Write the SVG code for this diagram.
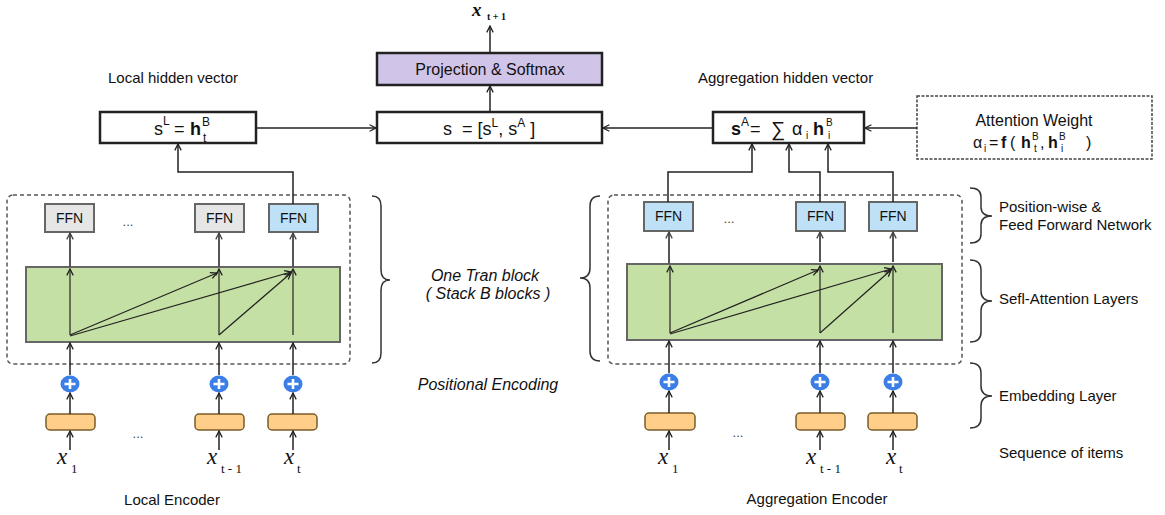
<svg xmlns="http://www.w3.org/2000/svg" width="1165" height="515" viewBox="0 0 1165 515">
<style>
text{font-family:"Liberation Sans",Arial,sans-serif;fill:#111}
.lbl{font-size:15px}
.it{font-style:italic;font-size:16px}
.bx{fill:#fff;stroke:#222;stroke-width:2.5}
.proj{fill:#d1c4e9;stroke:#222;stroke-width:2.5}
.attn{fill:#fff;stroke:#444;stroke-width:1.5;stroke-dasharray:3 1.5}
.cont{fill:none;stroke:#555;stroke-width:1.5;stroke-dasharray:4 3}
.ffng{fill:#e6e6e6;stroke:#666;stroke-width:2}
.ffnb{fill:#bfe1f8;stroke:#666;stroke-width:2}
.green{fill:#c5e0a4;stroke:#666;stroke-width:2}
.emb{fill:#ffcf8a;stroke:#7a5c28;stroke-width:1.5}
.plus{fill:#3b7fe6}
.pl{stroke:#fff;stroke-width:2.6}
.c{fill:none;stroke:#222;stroke-width:1.5;marker-end:url(#ah)}
.cg{fill:none;stroke:#555;stroke-width:2;marker-end:url(#ag)}
.ci{fill:none;stroke:#222;stroke-width:1.2;marker-end:url(#ah)}
.br{fill:none;stroke:#333;stroke-width:1.5}
.ffnt{font-size:14px;text-anchor:middle}
.f{font-size:18px}
.fa{font-size:16px}
.sup{font-size:12px}
.sa{font-size:10px}
.xl{font-family:"Liberation Serif","Times New Roman",serif;font-style:italic;font-size:23px}
.xs{font-family:"Liberation Serif","Times New Roman",serif;font-size:13px}
.dots{font-size:13px;fill:#444;text-anchor:middle}
</style>
<defs>
<marker id="ah" viewBox="0 0 10 10" refX="9" refY="5" markerWidth="8" markerHeight="8" orient="auto" markerUnits="userSpaceOnUse"><path d="M1,1 L9,5 L1,9" fill="none" stroke="#222" stroke-width="1.6"/></marker>
<marker id="ag" viewBox="0 0 10 10" refX="9" refY="5" markerWidth="8" markerHeight="8" orient="auto" markerUnits="userSpaceOnUse"><path d="M1,1 L9,5 L1,9" fill="none" stroke="#444" stroke-width="1.6"/></marker>
</defs>

<g id="labels">
<text class="lbl" x="173" y="83" text-anchor="middle">Local hidden vector</text>
<text class="lbl" x="698" y="83">Aggregation hidden vector</text>
<text class="it" x="485" y="281" text-anchor="middle">One Tran block</text>
<text class="it" x="488" y="299" text-anchor="middle">( Stack B blocks )</text>
<text class="it" x="488" y="390" text-anchor="middle">Positional Encoding</text>
<text class="lbl" x="172" y="505" text-anchor="middle">Local Encoder</text>
<text class="lbl" x="817" y="504" text-anchor="middle">Aggregation Encoder</text>
<text class="lbl" x="999" y="212">Position-wise &amp;</text>
<text class="lbl" x="999" y="230">Feed Forward Network</text>
<text class="lbl" x="999" y="304">Sefl-Attention Layers</text>
<text class="lbl" x="999" y="401">Embedding Layer</text>
<text class="lbl" x="999" y="458">Sequence of items</text>
</g>

<g id="braces">
<path class="br" d="M372,196 Q381,196 381,206 L381,270 Q381,280 390,280 Q381,280 381,290 L381,353 Q381,363 372,363"/>
<path class="br" d="M600,196 Q590,196 590,206 L590,268 Q590,278 580,278 Q590,278 590,288 L590,351 Q590,361 600,361"/>
<path class="br" d="M970,188 Q981,188 981,197 L981,207 Q981,216 992,216 Q981,216 981,225 L981,234 Q981,243 970,243"/>
<path class="br" d="M970,260 Q981,260 981,270 L981,291 Q981,301 992,301 Q981,301 981,311 L981,332 Q981,342 970,342"/>
<path class="br" d="M970,363 Q981,363 981,373 L981,386 Q981,396 992,396 Q981,396 981,406 L981,418 Q981,428 970,428"/>
</g>

<g id="output">
<text x="472" y="16" style="font-family:'Liberation Serif',serif;font-style:italic;font-weight:bold;font-size:19px">x</text>
<text x="487" y="20" style="font-family:'Liberation Serif',serif;font-weight:bold;font-size:10px">t + 1</text>
</g>

<g id="proj">
<rect class="proj" x="377" y="53" width="225" height="32"/>
<text x="490" y="75" text-anchor="middle" style="font-size:16px">Projection &amp; Softmax</text>
</g>

<g id="s">
<rect class="bx" x="377" y="112" width="225" height="31"/>
<text class="f" x="443" y="135">s&#160;&#160;= [s<tspan dy="-8" style="font-size:12px">L</tspan><tspan dy="8">, s</tspan><tspan dy="-8" style="font-size:12px">A</tspan><tspan dy="8"> ]</tspan></text>
</g>

<g id="sL">
<rect class="bx" x="100" y="112" width="156" height="31"/>
<text class="f" x="154" y="135">s</text>
<text class="sup" x="163" y="125">L</text>
<text class="f" x="174" y="135">=</text>
<text class="f" x="190" y="135" font-weight="bold">h</text>
<text class="sup" x="202" y="126">B</text>
<text class="sup" x="203" y="142">t</text>
</g>

<g id="sA">
<rect class="bx" x="713" y="112" width="151" height="31"/>
<text class="f" x="731" y="135" font-weight="bold">s</text>
<text class="sup" x="741" y="126">A</text>
<text class="f" x="750" y="135">=</text>
<text class="f" x="771" y="136" style="font-size:20px">∑</text>
<text class="f" x="792" y="135">α</text>
<text class="sa" x="806" y="139">i</text>
<text class="f" x="813" y="135" font-weight="bold">h</text>
<text class="sa" x="826" y="126">B</text>
<text class="sa" x="828" y="139">i</text>
</g>

<g id="attention">
<rect class="attn" x="917" y="96" width="235" height="63"/>
<text x="1034" y="126" text-anchor="middle" style="font-size:16px">Attention Weight</text>
<text class="fa" x="973" y="148">α</text>
<text class="sa" x="984" y="152">i</text>
<text class="fa" x="989" y="148">=</text>
<text class="fa" x="1001" y="148" font-weight="bold">f</text>
<text class="fa" x="1010" y="148">(</text>
<text class="fa" x="1021" y="148" font-weight="bold">h</text>
<text class="sa" x="1032" y="140">B</text>
<text class="sa" x="1034" y="152">t</text>
<text class="fa" x="1040" y="148">,</text>
<text class="fa" x="1048" y="148" font-weight="bold">h</text>
<text class="sa" x="1059" y="140">B</text>
<text class="sa" x="1061" y="152">i</text>
<text class="fa" x="1086" y="148">)</text>
</g>

<g id="local-encoder">
<rect class="cont" x="7" y="195" width="343" height="169" rx="6"/>
<rect class="green" x="26" y="267" width="314" height="75"/>
<rect class="ffng" x="45" y="204" width="49" height="28"/>
<text class="ffnt" x="69.5" y="223">FFN</text>
<rect class="ffng" x="195" y="204" width="49" height="28"/>
<text class="ffnt" x="219.5" y="223">FFN</text>
<rect class="ffnb" x="269" y="204" width="49" height="28"/>
<text class="ffnt" x="293.5" y="223">FFN</text>
<text class="dots" x="128" y="226">...</text>
<text class="dots" x="138" y="438">...</text>
<ellipse class="plus" cx="70" cy="384" rx="9.5" ry="8.5"/><path class="pl" d="M64.5,384 H75.5 M70,379 V389"/>
<ellipse class="plus" cx="219" cy="384" rx="9.5" ry="8.5"/><path class="pl" d="M213.5,384 H224.5 M219,379 V389"/>
<ellipse class="plus" cx="293" cy="384" rx="9.5" ry="8.5"/><path class="pl" d="M287.5,384 H298.5 M293,379 V389"/>
<rect class="emb" x="46" y="414" width="49" height="16" rx="4"/>
<rect class="emb" x="195" y="414" width="49" height="16" rx="4"/>
<rect class="emb" x="268" y="414" width="49" height="16" rx="4"/>
<text class="xl" x="57" y="464">x</text><text class="xs" x="71" y="473">1</text>
<text class="xl" x="207" y="464">x</text><text class="xs" x="221" y="473">t - 1</text>
<text class="xl" x="284" y="464">x</text><text class="xs" x="297" y="473">t</text>
</g>

<g id="aggregation-encoder">
<rect class="cont" x="608" y="195" width="354" height="169" rx="6"/>
<rect class="green" x="627" y="264" width="315" height="76"/>
<rect class="ffnb" x="644" y="202" width="49" height="29"/>
<text class="ffnt" x="668.5" y="221">FFN</text>
<rect class="ffnb" x="796" y="202" width="49" height="29"/>
<text class="ffnt" x="820.5" y="221">FFN</text>
<rect class="ffnb" x="869" y="202" width="48" height="29"/>
<text class="ffnt" x="893" y="221">FFN</text>
<text class="dots" x="729" y="223">...</text>
<text class="dots" x="738" y="437">...</text>
<ellipse class="plus" cx="669" cy="382" rx="9.5" ry="8.5"/><path class="pl" d="M663.5,382 H674.5 M669,377 V387"/>
<ellipse class="plus" cx="820" cy="382" rx="9.5" ry="8.5"/><path class="pl" d="M814.5,382 H825.5 M820,377 V387"/>
<ellipse class="plus" cx="893" cy="382" rx="9.5" ry="8.5"/><path class="pl" d="M887.5,382 H898.5 M893,377 V387"/>
<rect class="emb" x="645" y="413" width="50" height="17" rx="4"/>
<rect class="emb" x="796" y="413" width="49" height="17" rx="4"/>
<rect class="emb" x="868" y="413" width="49" height="17" rx="4"/>
<text class="xl" x="658" y="464">x</text><text class="xs" x="672" y="473">1</text>
<text class="xl" x="806" y="464">x</text><text class="xs" x="820" y="473">t - 1</text>
<text class="xl" x="886" y="464">x</text><text class="xs" x="899" y="473">t</text>
</g>

<g id="connectors">
<path class="c" d="M490,52 V26"/>
<path class="c" d="M490,112 V86"/>
<path class="c" d="M256,128 H376"/>
<path class="c" d="M713,128 H603"/>
<path class="c" d="M917,128 H865"/>
<path class="c" d="M293,204 V172 H178 V144"/>
<path class="c" d="M668,202 V172 H752 V144"/>
<path class="c" d="M820,202 V172 H789 V144"/>
<path class="c" d="M893,202 V172 H828 V144"/>
<path class="cg" d="M70,267 V233"/>
<path class="cg" d="M219,267 V233"/>
<path class="cg" d="M293,267 V233"/>
<path class="ci" d="M70,335 V269"/>
<path class="ci" d="M70,335 L217,273"/>
<path class="ci" d="M70,336 L291,272"/>
<path class="ci" d="M219,335 V269"/>
<path class="ci" d="M219,335 L291,273"/>
<path class="ci" d="M293,335 V269"/>
<path class="c" d="M70,375 V343"/>
<path class="c" d="M219,375 V343"/>
<path class="c" d="M293,375 V343"/>
<path class="c" d="M70,414 V393"/>
<path class="c" d="M219,414 V393"/>
<path class="c" d="M293,414 V393"/>
<path class="c" d="M70,450 V431"/>
<path class="c" d="M219,450 V431"/>
<path class="c" d="M293,450 V431"/>
<path class="cg" d="M669,264 V232"/>
<path class="cg" d="M820,262 V232"/>
<path class="cg" d="M893,262 V232"/>
<path class="ci" d="M670,333 V266"/>
<path class="ci" d="M670,333 L818,270"/>
<path class="ci" d="M670,334 L891,269"/>
<path class="ci" d="M820,333 V266"/>
<path class="ci" d="M820,333 L891,270"/>
<path class="ci" d="M893,333 V266"/>
<path class="c" d="M669,373 V341"/>
<path class="c" d="M820,373 V341"/>
<path class="c" d="M893,373 V341"/>
<path class="c" d="M669,413 V391"/>
<path class="c" d="M820,413 V391"/>
<path class="c" d="M893,413 V391"/>
<path class="c" d="M669,450 V431"/>
<path class="c" d="M820,450 V431"/>
<path class="c" d="M893,450 V431"/>
</g>
</svg>
